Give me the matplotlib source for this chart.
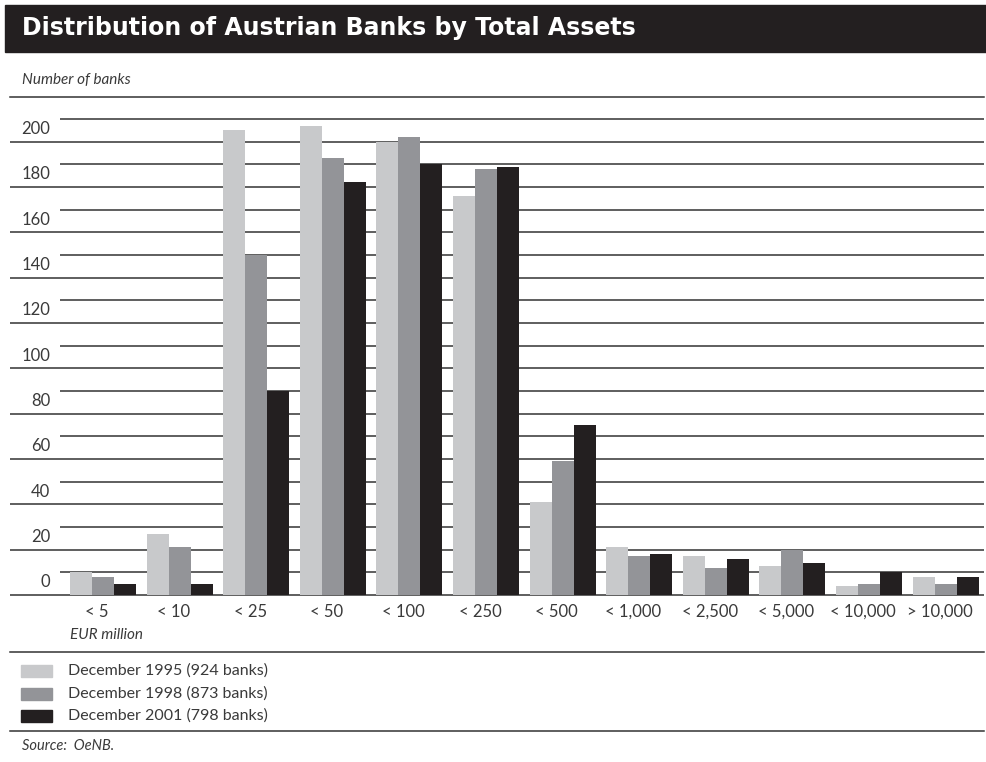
import numpy as np
import matplotlib.pyplot as plt
from matplotlib.patches import Rectangle

# number of banks per size class of total assets (EUR million)
size_classes = ['< 5', '< 10', '< 25', '< 50', '< 100', '< 250', '< 500',
                '< 1,000', '< 2,500', '< 5,000', '< 10,000', '> 10,000']
dec_1995 = [10, 27, 205, 207, 200, 176, 41, 21, 17, 13, 4, 8]
dec_1998 = [8, 21, 150, 193, 202, 188, 59, 17, 12, 20, 5, 5]
dec_2001 = [5, 5, 90, 182, 190, 189, 75, 18, 16, 14, 10, 8]
series_labels = ['December 1995 (924 banks)', 'December 1998 (873 banks)',
                 'December 2001 (798 banks)']
y_ticks = list(range(0, 201, 20))

colors = ['#c8c9cb', '#939498', '#231f20']
txt_col = '#3a3a3a'
line_col = '#333333'
body_font = ['Lato', 'DejaVu Sans']

W, H = 986, 762
fig = plt.figure(figsize=(W / 100, H / 100), dpi=100)

def fx(px):
    return px / W

def fy(py):
    return 1 - py / H

# title bar
fig.patches.append(Rectangle((fx(5), fy(52)), fx(986) - fx(5), fy(5) - fy(52),
                             transform=fig.transFigure, color='#231f20', zorder=0))
fig.text(fx(22), fy(28.5), 'Distribution of Austrian Banks by Total Assets',
         color='white', fontsize=17, fontweight='bold', family='DejaVu Sans',
         va='center', ha='left')
fig.text(fx(22), fy(80), 'Number of banks', fontsize=11, style='italic',
         color=txt_col, family=body_font, va='center')

for py in (97, 652, 731):
    fig.add_artist(plt.Line2D([fx(10), fx(984)], [fy(py), fy(py)],
                              transform=fig.transFigure, color=line_col, lw=1.1))

ax = fig.add_axes([fx(10), fy(595), fx(984) - fx(10), fy(119) - fy(595)])
x_left, x_right = -1.214, 11.5
ax.set_xlim(x_left, x_right)
ax.set_ylim(0, 210)
ax.axis('off')

# long lines on labelled values, short lines in between
for v in range(0, 211, 10):
    start = x_left if v % 20 == 0 else -0.561
    ax.plot([start, x_right], [v, v], color=line_col, lw=1.1, zorder=1,
            clip_on=False, solid_capstyle='butt')

for v in y_ticks:
    ax.text(-0.69, v + 5.6, str(v), ha='right', va='center', fontsize=12,
            color=txt_col, family=body_font)

x = np.arange(len(size_classes))
w = 0.287
for i, vals in enumerate([dec_1995, dec_1998, dec_2001]):
    ax.bar(x + (i - 1) * w, vals, width=w, color=colors[i], zorder=2,
           label=series_labels[i])

for xi, lab in zip(x, size_classes):
    ax.text(xi - 0.08, -7.5, lab, ha='center', va='center', fontsize=12,
            color=txt_col, family=body_font)
ax.text(-0.43, -17.5, 'EUR million', ha='left', va='center', fontsize=11,
        style='italic', color=txt_col, family=body_font)

# legend drawn by hand
for i, lab in enumerate(series_labels):
    cy = 671 + i * 22.5
    fig.patches.append(Rectangle((fx(21), fy(cy + 6)), fx(31), fy(cy - 6) - fy(cy + 6),
                                 transform=fig.transFigure, color=colors[i]))
    fig.text(fx(68), fy(cy), lab, fontsize=11.5, color=txt_col,
             family=body_font, va='center')

fig.text(fx(22), fy(746), 'Source:  OeNB.', fontsize=10.5, style='italic',
         color=txt_col, family=body_font, va='center')

plt.savefig('out.png', dpi=100)
